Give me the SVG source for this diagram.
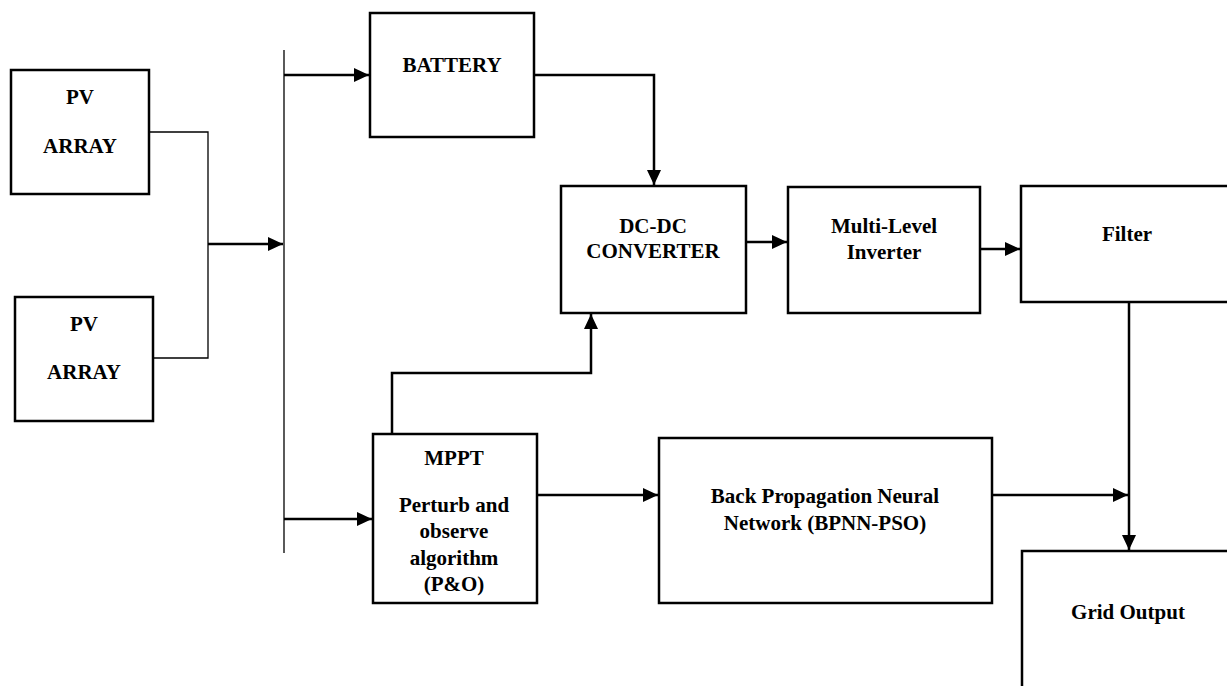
<svg xmlns="http://www.w3.org/2000/svg" width="1227" height="686" viewBox="0 0 1227 686">
<style>
.box{fill:#fff;stroke:#000;stroke-width:2.5}
.t{font-family:"Liberation Serif","Times New Roman",serif;font-weight:bold;font-size:21px;text-anchor:middle;fill:#000}
.thin{fill:none;stroke:#000;stroke-width:1.3}
.w{fill:none;stroke:#000;stroke-width:2.5}
</style>
<defs>
<marker id="ah" markerUnits="userSpaceOnUse" markerWidth="16" markerHeight="15" refX="15" refY="7" orient="auto">
<path d="M0,0 L15,7 L0,14 z" fill="#000"/>
</marker>
</defs>
<rect width="1227" height="686" fill="#fff"/>
<g id="connectors">
<path class="thin" d="M150,132 H208 V358 H153"/>
<path class="thin" d="M284,50 V553"/>
<path class="w" d="M208,244 H283" marker-end="url(#ah)"/>
<path class="w" d="M284,75 H369" marker-end="url(#ah)"/>
<path class="w" d="M534,75 H654 V185" marker-end="url(#ah)"/>
<path class="w" d="M392,434 V373 H591 V314" marker-end="url(#ah)"/>
<path class="w" d="M746,242 H787" marker-end="url(#ah)"/>
<path class="w" d="M980,249 H1020" marker-end="url(#ah)"/>
<path class="w" d="M284,519 H372" marker-end="url(#ah)"/>
<path class="w" d="M537,495 H658" marker-end="url(#ah)"/>
<path class="w" d="M992,495 H1128" marker-end="url(#ah)"/>
<path class="w" d="M1129,302 V550" marker-end="url(#ah)"/>
</g>
<g id="pv1">
<rect class="box" x="11" y="70" width="138" height="124"/>
<text class="t" x="80" y="104">PV</text>
<text class="t" x="80" y="153">ARRAY</text>
</g>
<g id="pv2">
<rect class="box" x="15" y="297" width="138" height="124"/>
<text class="t" x="84" y="331">PV</text>
<text class="t" x="84" y="379">ARRAY</text>
</g>
<g id="battery">
<rect class="box" x="370" y="13" width="164" height="124"/>
<text class="t" x="452" y="72">BATTERY</text>
</g>
<g id="dcdc">
<rect class="box" x="561" y="186" width="185" height="127"/>
<text class="t" x="653" y="233">DC-DC</text>
<text class="t" x="653" y="258">CONVERTER</text>
</g>
<g id="inverter">
<rect class="box" x="788" y="187" width="192" height="126"/>
<text class="t" x="884" y="233">Multi-Level</text>
<text class="t" x="884" y="259">Inverter</text>
</g>
<g id="filter">
<rect class="box" x="1021" y="186" width="220" height="116"/>
<text class="t" x="1127" y="241">Filter</text>
</g>
<g id="mppt">
<rect class="box" x="373" y="434" width="164" height="169"/>
<text class="t" x="454" y="465">MPPT</text>
<text class="t" x="454" y="512">Perturb and</text>
<text class="t" x="454" y="538">observe</text>
<text class="t" x="454" y="565">algorithm</text>
<text class="t" x="454" y="591">(P&amp;O)</text>
</g>
<g id="bpnn">
<rect class="box" x="659" y="438" width="333" height="165"/>
<text class="t" x="825" y="503">Back Propagation Neural</text>
<text class="t" x="825" y="530">Network (BPNN-PSO)</text>
</g>
<g id="grid">
<rect class="box" x="1022" y="551" width="230" height="160"/>
<text class="t" x="1128" y="619">Grid Output</text>
</g>
</svg>
